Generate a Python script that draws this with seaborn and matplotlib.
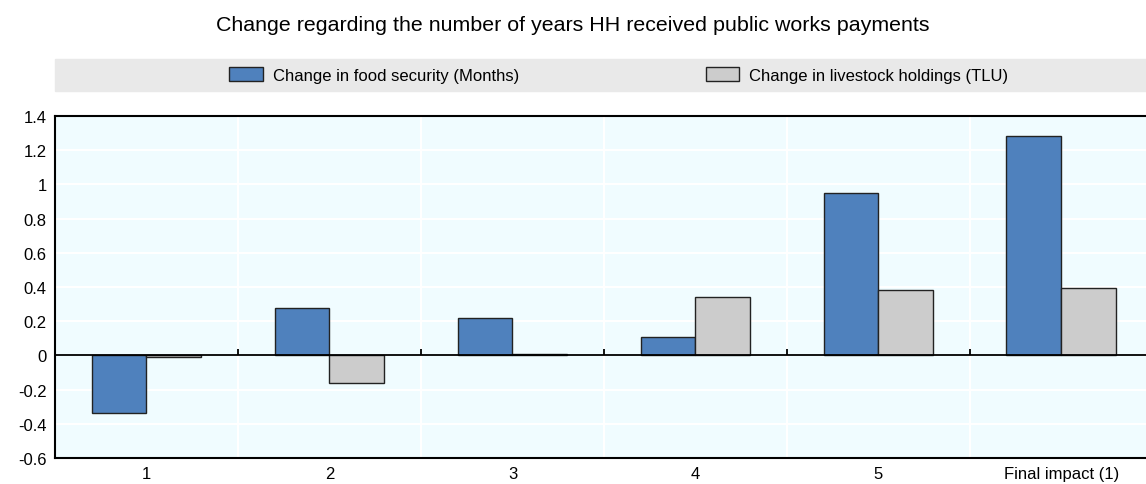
import matplotlib
matplotlib.use("Agg")
import matplotlib.pyplot as plt
import matplotlib.patches as mpatches
import seaborn as sns
import pandas as pd
import numpy as np

categories = ["1", "2", "3", "4", "5", "Final impact (1)"]
food_security = [-0.335, 0.28, 0.22, 0.105, 0.95, 1.285]
livestock = [-0.01, -0.16, 0.01, 0.34, 0.385, 0.395]
series = ["Change in food security (Months)", "Change in livestock holdings (TLU)"]
colors = ["#4F81BD", "#CCCCCC"]

df = pd.DataFrame({
    "cat": categories * 2,
    "value": food_security + livestock,
    "series": [series[0]] * len(categories) + [series[1]] * len(categories),
})

sns.set_style("white")
plt.rcParams["font.family"] = ["Liberation Sans", "DejaVu Sans"]
plt.rcParams["text.color"] = "black"
plt.rcParams["xtick.color"] = "black"
plt.rcParams["ytick.color"] = "black"

fig = plt.figure(figsize=(11.46, 4.85), dpi=100)
ax = fig.add_axes([0.048, 0.0536, 0.958, 0.705])
ax.set_facecolor("#F0FCFF")

sns.barplot(data=df, x="cat", y="value", hue="series", palette=colors,
            saturation=1, width=0.6, edgecolor="#222222", linewidth=1.0,
            ax=ax, legend=False, zorder=3)

ax.set_xlim(-0.5, len(categories) - 0.5)
ax.set_ylim(-0.6, 1.4)
ax.set_yticks(np.arange(-0.6, 1.41, 0.2))
ax.yaxis.set_major_formatter(matplotlib.ticker.FuncFormatter(lambda v, p: f"{v:g}" if abs(v) > 1e-9 else "0"))
ax.set_xticks(range(len(categories)))
ax.set_xticklabels(categories)
ax.set_xlabel("")
ax.set_ylabel("")
ax.tick_params(axis="y", direction="in", length=4, labelsize=12, pad=6)
ax.tick_params(axis="x", length=0, labelsize=12, pad=6)

ax.grid(axis="y", color="white", linewidth=1.5, zorder=0)
bounds = np.arange(0.5, len(categories) - 0.5, 1)
for b in bounds:
    ax.axvline(b, color="white", linewidth=1.5, zorder=0)
ax.axhline(0, color="black", linewidth=1.3, zorder=4)
ax.vlines(bounds, 0, 0.04, color="black", linewidth=1.3, zorder=4)

for s in ["left", "top", "bottom"]:
    ax.spines[s].set_color("black")
    ax.spines[s].set_linewidth(1.5)
ax.spines["right"].set_visible(False)

fig.patches.append(mpatches.Rectangle((0.048, 0.81), 0.952, 0.066,
                                      transform=fig.transFigure, color="#E9E9E9",
                                      zorder=0))
handles = [mpatches.Patch(facecolor=c, edgecolor="#222222", linewidth=1.0) for c in colors]
fig.legend(handles, series, ncol=2, loc="center", bbox_to_anchor=(0.54, 0.843),
           frameon=False, fontsize=12, columnspacing=11.2, handlelength=2.0,
           handleheight=0.9, handletextpad=0.6)

fig.suptitle("Change regarding the number of years HH received public works payments",
             y=0.968, fontsize=15.4)

fig.savefig("out.png", dpi=100)
